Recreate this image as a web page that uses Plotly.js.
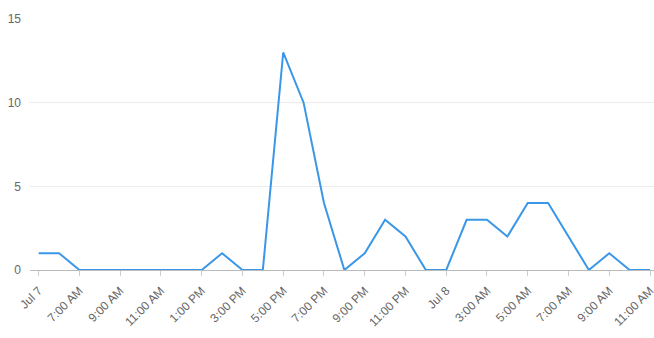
<!DOCTYPE html>
<html>
<head>
<meta charset="utf-8">
<script src="https://cdn.plot.ly/plotly-3.0.1.min.js"></script>
<style>html,body{margin:0;padding:0;background:#fff;}#chart{width:654px;height:338px;}</style>
</head>
<body>
<div id="chart"></div>
<script>
const times = [
  "2024-07-07 05:00","2024-07-07 06:00","2024-07-07 07:00","2024-07-07 08:00",
  "2024-07-07 09:00","2024-07-07 10:00","2024-07-07 11:00","2024-07-07 12:00",
  "2024-07-07 13:00","2024-07-07 14:00","2024-07-07 15:00","2024-07-07 16:00",
  "2024-07-07 17:00","2024-07-07 18:00","2024-07-07 19:00","2024-07-07 20:00",
  "2024-07-07 21:00","2024-07-07 22:00","2024-07-07 23:00","2024-07-08 00:00",
  "2024-07-08 01:00","2024-07-08 02:00","2024-07-08 03:00","2024-07-08 04:00",
  "2024-07-08 05:00","2024-07-08 06:00","2024-07-08 07:00","2024-07-08 08:00",
  "2024-07-08 09:00","2024-07-08 10:00","2024-07-08 11:00"
];
const counts = [1,1,0,0,0,0,0,0,0,1,0,0,13,10,4,0,1,3,2,0,0,3,3,2,4,4,2,0,1,0,0];
const tickVals = [
  "2024-07-07 05:00","2024-07-07 07:00","2024-07-07 09:00","2024-07-07 11:00",
  "2024-07-07 13:00","2024-07-07 15:00","2024-07-07 17:00","2024-07-07 19:00",
  "2024-07-07 21:00","2024-07-07 23:00","2024-07-08 01:00","2024-07-08 03:00",
  "2024-07-08 05:00","2024-07-08 07:00","2024-07-08 09:00","2024-07-08 11:00"
];
const tickText = ["Jul 7","7:00 AM","9:00 AM","11:00 AM","1:00 PM","3:00 PM","5:00 PM","7:00 PM",
  "9:00 PM","11:00 PM","Jul 8","3:00 AM","5:00 AM","7:00 AM","9:00 AM","11:00 AM"];
const yTicks = [0,5,10,15];

const trace = {
  x: times, y: counts, type: 'scatter', mode: 'lines',
  line: {color: '#3a97e8', width: 2},
  hoverinfo: 'x+y'
};
const layout = {
  width: 654, height: 338,
  margin: {l: 30, r: 0, t: 19, b: 68, pad: 0},
  paper_bgcolor: '#fff', plot_bgcolor: '#fff',
  font: {family: 'Liberation Sans, Arial, sans-serif', size: 12, color: '#666'},
  showlegend: false,
  xaxis: {
    type: 'date',
    range: ['2024-07-07 04:34:24', '2024-07-08 11:11:47'],
    tickmode: 'array', tickvals: tickVals, ticktext: tickText,
    tickangle: -45,
    ticklabeloverflow: 'allow',
    ticklabelstandoff: 3,
    ticks: 'outside', ticklen: 5, tickcolor: '#ccc',
    showgrid: false, zeroline: false,
    showline: true, linecolor: '#bbb', linewidth: 1,
    tickfont: {size: 12, color: '#666'}
  },
  yaxis: {
    range: [0, 15],
    tickmode: 'array', tickvals: yTicks,
    showgrid: true, gridcolor: '#ececec', gridwidth: 1,
    zeroline: false, showline: false,
    ticks: '', ticklabelstandoff: 8,
    tickfont: {size: 12, color: '#666'}
  }
};
Plotly.newPlot('chart', [trace], layout, {staticPlot: true, displayModeBar: false});
</script>
</body>
</html>
